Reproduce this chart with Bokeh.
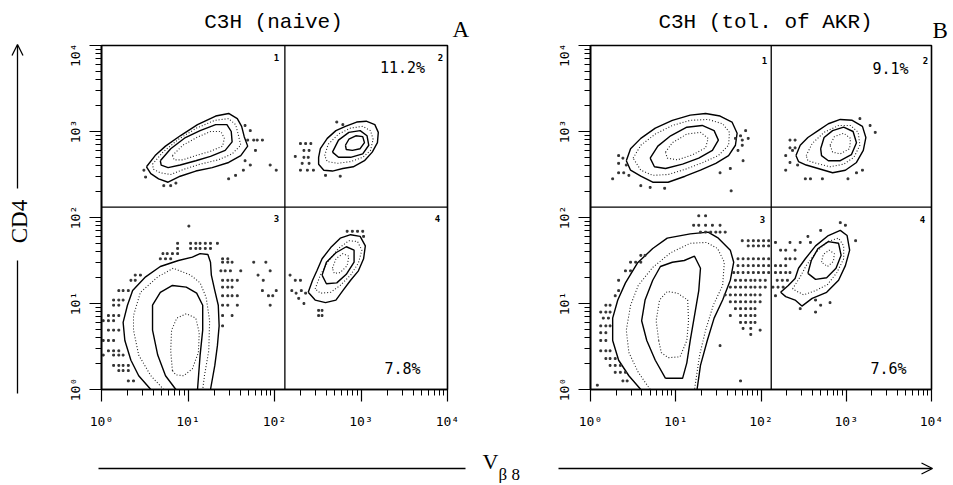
from bokeh.plotting import figure
from bokeh.layouts import row, column
from bokeh.models import Span, Label, Arrow, OpenHead, FixedTicker, Range1d
from bokeh.embed import file_html
from bokeh.resources import INLINE

# ---------------- data (log10 fluorescence units) ----------------
DECADES = [1, 10, 100, 1000, 10000]
TICK_LABELS = ["10\u2070", "10\u00b9", "10\u00b2", "10\u00b3", "10\u2074"]
GATE_LOG = 2.12
PCT_A = ["11.2%", "7.8%"]
PCT_B = ["9.1%", "7.6%"]

# Panel A (naive) contours
a_q1_c1 = [(0.52,2.59),(0.62,2.72),(0.74,2.83),(0.91,2.95),(1.11,3.08),(1.32,3.18),(1.47,3.21),(1.57,3.15),(1.62,3.06),(1.65,2.94),(1.69,2.83),(1.61,2.72),(1.47,2.64),(1.28,2.58),(1.09,2.54),(0.91,2.48),(0.77,2.41),(0.66,2.45),(0.57,2.51)]
a_q1_c2 = [(0.59,2.62),(0.71,2.76),(0.89,2.91),(1.10,3.04),(1.31,3.13),(1.47,3.15),(1.55,3.08),(1.58,2.97),(1.61,2.84),(1.51,2.74),(1.35,2.67),(1.14,2.62),(0.95,2.56),(0.80,2.50),(0.68,2.52),(0.60,2.56)]
a_q1_c3 = [(0.68,2.66),(0.80,2.80),(0.97,2.93),(1.14,3.01),(1.32,3.08),(1.45,3.08),(1.50,3.00),(1.51,2.88),(1.43,2.78),(1.26,2.71),(1.09,2.66),(0.91,2.61),(0.77,2.58),(0.69,2.61)]
a_q1_c4 = [(0.82,2.72),(0.94,2.84),(1.10,2.93),(1.26,3.00),(1.38,3.00),(1.42,2.92),(1.40,2.83),(1.26,2.77),(1.09,2.72),(0.94,2.67),(0.84,2.67)]
a_q2_c1 = [(2.51,2.70),(2.53,2.80),(2.61,2.92),(2.71,3.01),(2.82,3.06),(2.95,3.11),(3.06,3.12),(3.16,3.08),(3.20,2.99),(3.19,2.87),(3.13,2.76),(3.04,2.66),(2.91,2.59),(2.79,2.57),(2.67,2.54),(2.57,2.55),(2.51,2.62)]
a_q2_c2 = [(2.58,2.72),(2.62,2.85),(2.74,2.97),(2.88,3.04),(3.02,3.06),(3.11,3.01),(3.14,2.91),(3.11,2.78),(3.02,2.70),(2.88,2.65),(2.73,2.63),(2.61,2.65)]
a_q2_c3 = [(2.67,2.76),(2.74,2.90),(2.86,2.99),(2.99,3.01),(3.07,2.95),(3.09,2.84),(3.02,2.74),(2.88,2.70),(2.74,2.70)]
a_q2_c4 = [(2.82,2.84),(2.86,2.91),(2.94,2.95),(3.02,2.94),(3.04,2.87),(2.99,2.80),(2.90,2.78),(2.83,2.79)]
a_q3_c1 = [(0.57,0.0),(0.43,0.16),(0.34,0.34),(0.27,0.57),(0.25,0.78),(0.30,0.98),(0.36,1.15),(0.51,1.31),(0.68,1.43),(0.89,1.50),(1.05,1.54),(1.14,1.58),(1.23,1.57),(1.26,1.48),(1.27,1.33),(1.31,1.15),(1.35,0.98),(1.36,0.74),(1.34,0.51),(1.31,0.28),(1.26,0.0)]
a_q3_c2 = [(0.72,0.0),(0.57,0.16),(0.43,0.40),(0.37,0.69),(0.37,0.86),(0.45,1.13),(0.65,1.31),(0.83,1.41),(1.03,1.33),(1.14,1.24),(1.21,1.07),(1.25,0.80),(1.24,0.45),(1.19,0.16),(1.17,0.0)]
a_q3_c3 = [(0.86,0.0),(0.74,0.16),(0.65,0.40),(0.59,0.69),(0.59,0.98),(0.68,1.13),(0.82,1.21),(0.98,1.19),(1.10,1.12),(1.17,0.98),(1.17,0.69),(1.14,0.40),(1.11,0.0)]
a_q3_c4 = [(0.82,0.22),(0.80,0.45),(0.81,0.69),(0.87,0.83),(0.98,0.88),(1.09,0.83),(1.13,0.66),(1.12,0.43),(1.05,0.24),(0.95,0.16),(0.86,0.17)]
a_q4_c1 = [(2.39,1.13),(2.44,1.27),(2.49,1.38),(2.55,1.52),(2.65,1.65),(2.76,1.76),(2.88,1.80),(2.99,1.78),(3.05,1.67),(3.03,1.52),(2.97,1.38),(2.88,1.27),(2.79,1.15),(2.71,1.04),(2.59,1.01),(2.47,1.04)]
a_q4_c2 = [(2.47,1.17),(2.53,1.33),(2.62,1.49),(2.74,1.64),(2.86,1.73),(2.96,1.72),(3.01,1.62),(2.97,1.47),(2.88,1.33),(2.76,1.21),(2.65,1.13),(2.53,1.12)]
a_q4_c3 = [(2.55,1.33),(2.60,1.48),(2.71,1.59),(2.83,1.66),(2.92,1.62),(2.92,1.48),(2.83,1.34),(2.72,1.24),(2.60,1.23)]
a_q4_c4 = [(2.67,1.41),(2.71,1.52),(2.79,1.58),(2.86,1.55),(2.84,1.44),(2.76,1.36),(2.69,1.35)]

# Panel B (tolerant of AKR) contours
b_q1_c1 = [(0.42,2.66),(0.47,2.80),(0.59,2.92),(0.76,3.04),(0.96,3.13),(1.17,3.19),(1.35,3.21),(1.52,3.18),(1.66,3.11),(1.72,2.98),(1.70,2.84),(1.62,2.72),(1.47,2.63),(1.29,2.55),(1.11,2.48),(0.91,2.41),(0.73,2.41),(0.59,2.48),(0.47,2.55)]
b_q1_c2 = [(0.50,2.69),(0.59,2.84),(0.76,2.97),(0.96,3.07),(1.17,3.13),(1.38,3.14),(1.55,3.09),(1.63,2.99),(1.62,2.84),(1.50,2.72),(1.32,2.64),(1.11,2.56),(0.91,2.50),(0.73,2.49),(0.59,2.55)]
b_q1_c3 = [(0.70,2.69),(0.79,2.83),(0.94,2.95),(1.13,3.05),(1.31,3.07),(1.45,3.01),(1.50,2.90),(1.43,2.78),(1.27,2.69),(1.08,2.62),(0.88,2.57),(0.75,2.59)]
b_q1_c4 = [(0.88,2.76),(0.96,2.87),(1.13,2.97),(1.29,2.99),(1.38,2.92),(1.35,2.81),(1.20,2.73),(1.02,2.67),(0.90,2.69)]
b_q2_c1 = [(2.41,2.72),(2.46,2.84),(2.55,2.93),(2.67,3.01),(2.79,3.09),(2.93,3.14),(3.07,3.13),(3.19,3.06),(3.23,2.93),(3.20,2.78),(3.12,2.64),(2.99,2.55),(2.84,2.52),(2.67,2.57),(2.53,2.61),(2.44,2.65)]
b_q2_c2 = [(2.53,2.72),(2.60,2.86),(2.74,2.99),(2.91,3.07),(3.05,3.07),(3.14,2.99),(3.16,2.84),(3.09,2.70),(2.97,2.62),(2.81,2.59),(2.65,2.63),(2.55,2.66)]
b_q2_c3 = [(2.70,2.80),(2.74,2.93),(2.84,3.01),(2.97,3.05),(3.08,3.00),(3.12,2.87),(3.06,2.73),(2.93,2.66),(2.79,2.66),(2.71,2.72)]
b_q2_c4 = [(2.81,2.84),(2.86,2.94),(2.97,2.98),(3.05,2.92),(3.04,2.80),(2.93,2.74),(2.84,2.76)]
b_q3_c1 = [(0.59,0.0),(0.45,0.16),(0.33,0.34),(0.26,0.57),(0.26,0.83),(0.32,1.04),(0.41,1.24),(0.55,1.47),(0.73,1.64),(0.90,1.76),(1.17,1.81),(1.38,1.83),(1.50,1.76),(1.64,1.62),(1.68,1.48),(1.64,1.27),(1.55,1.04),(1.45,0.83),(1.37,0.57),(1.29,0.28),(1.25,0.0)]
b_q3_c2 = [(0.70,0.0),(0.56,0.20),(0.45,0.43),(0.42,0.69),(0.47,0.98),(0.56,1.21),(0.73,1.42),(0.94,1.59),(1.17,1.70),(1.36,1.71),(1.49,1.64),(1.57,1.48),(1.55,1.21),(1.44,0.98),(1.35,0.69),(1.28,0.40),(1.22,0.0)]
b_q3_c3 = [(0.88,0.13),(0.76,0.34),(0.66,0.57),(0.60,0.80),(0.64,1.04),(0.73,1.27),(0.82,1.43),(0.96,1.48),(1.10,1.50),(1.22,1.55),(1.29,1.41),(1.27,1.15),(1.22,0.86),(1.17,0.57),(1.13,0.31),(1.08,0.13)]
b_q3_c4 = [(0.80,0.57),(0.77,0.80),(0.81,1.04),(0.90,1.14),(1.02,1.12),(1.14,1.04),(1.15,0.80),(1.13,0.57),(1.05,0.38),(0.91,0.37),(0.83,0.43)]
b_q4_c1 = [(2.23,1.13),(2.32,1.21),(2.40,1.29),(2.44,1.41),(2.52,1.52),(2.64,1.67),(2.79,1.79),(2.93,1.85),(3.01,1.79),(3.04,1.62),(2.99,1.44),(2.91,1.27),(2.77,1.13),(2.60,1.06),(2.48,0.97),(2.40,1.04),(2.29,1.08)]
b_q4_c2 = [(2.37,1.17),(2.46,1.31),(2.53,1.44),(2.64,1.59),(2.78,1.72),(2.91,1.76),(2.97,1.67),(2.97,1.52),(2.89,1.36),(2.78,1.22),(2.64,1.15),(2.50,1.10)]
b_q4_c3 = [(2.55,1.35),(2.59,1.50),(2.67,1.64),(2.79,1.72),(2.91,1.70),(2.94,1.56),(2.88,1.41),(2.77,1.30),(2.64,1.28)]
b_q4_c4 = [(2.71,1.48),(2.73,1.57),(2.80,1.62),(2.86,1.58),(2.85,1.49),(2.78,1.43)]

# (contour, style, closed)
contours_a = [
    (a_q1_c1, "solid", True), (a_q1_c2, "dot", True), (a_q1_c3, "solid", True), (a_q1_c4, "dot", True),
    (a_q2_c1, "solid", True), (a_q2_c2, "dot", True), (a_q2_c3, "solid", True), (a_q2_c4, "solid", True),
    (a_q3_c1, "solid", False), (a_q3_c2, "dot", False), (a_q3_c3, "solid", False), (a_q3_c4, "dot", True),
    (a_q4_c1, "solid", True), (a_q4_c2, "dot", True), (a_q4_c3, "solid", True), (a_q4_c4, "dot", True),
]
contours_b = [
    (b_q1_c1, "solid", True), (b_q1_c2, "dot", True), (b_q1_c3, "solid", True), (b_q1_c4, "dot", True),
    (b_q2_c1, "solid", True), (b_q2_c2, "dot", True), (b_q2_c3, "solid", True), (b_q2_c4, "dot", True),
    (b_q3_c1, "solid", False), (b_q3_c2, "dot", False), (b_q3_c3, "solid", True), (b_q3_c4, "dot", True),
    (b_q4_c1, "solid", True), (b_q4_c2, "dot", True), (b_q4_c3, "solid", True), (b_q4_c4, "dot", True),
]

# scattered single events: rows of (log y, [log x ...])
dots_a_rows = [
    (1.90,[1.01]), (1.70,[0.88,1.03,1.09,1.14,1.20,1.26,1.34]), (1.64,[0.88,1.03,1.09,1.14,1.20,1.26]),
    (1.58,[0.71,0.76,0.82,0.88]), (1.52,[0.68,0.74,0.80,1.40,1.46]), (1.48,[1.40,1.46,1.51,1.76,1.90]),
    (1.38,[1.38,1.43,1.49,1.61,1.95]), (1.33,[0.39,0.45,1.81]), (1.27,[0.34,0.39,1.40,1.46,1.51,1.57,1.87]),
    (1.19,[1.40,1.46,1.51]), (1.15,[0.20,0.25,0.31,1.86,2.02]), (1.09,[1.40,1.46,1.51,1.57,1.93,1.98]),
    (1.04,[0.14,0.20,0.25]), (0.98,[0.14,0.20,1.40,1.46,1.57,1.95]), (0.86,[0.08,0.14,0.20,1.40,1.51]),
    (0.80,[0.02,0.08,0.14]), (0.74,[1.40]), (0.69,[0.08,0.14,0.20]), (0.57,[0.02,0.08,0.14]),
    (0.45,[0.08,0.14,0.20]), (0.40,[0.02,0.14,0.20,0.25]), (0.28,[0.14,0.20,0.25,0.31]),
    (0.22,[0.20,0.25,0.31]), (0.10,[0.31,0.37]),
    # quadrant 4
    (1.84,[2.84,2.90,2.96,3.02]), (1.78,[3.03]), (1.33,[2.18]), (1.27,[2.24,2.30]), (1.15,[2.20,2.31]),
    (1.12,[2.25,2.36]), (1.06,[2.28]), (1.00,[2.34]), (0.92,[2.51,2.55]), (0.86,[2.51,2.55]),
    # quadrant 1
    (3.07,[1.66]), (3.01,[1.72]), (2.90,[1.69,1.76,1.80,1.86]), (2.78,[1.78]), (2.66,[1.66]),
    (2.61,[1.72,1.95]), (2.55,[0.49,1.64,2.02]), (2.49,[1.55]), (2.47,[0.51]), (2.45,[1.47]),
    (2.37,[0.72,0.80]), (2.40,[0.86]),
    # quadrant 2
    (2.86,[2.30,2.36,2.42]), (2.78,[2.34,2.40]), (2.71,[2.24]), (2.70,[2.34,2.39]), (2.63,[2.32,2.40]),
    (2.55,[2.30,2.38,2.45]), (3.11,[2.72]), (3.08,[2.79]), (2.49,[2.59]), (2.48,[2.76]),
]
dots_b_rows = [
    # quadrant 3
    (2.02,[1.27,1.35]), (1.91,[1.21,1.27,1.35,1.43,1.52]), (1.83,[1.29,1.35,1.41,1.47,1.52,1.58]),
    (1.73,[1.78,1.85,1.91,1.97,2.03,2.09]), (1.67,[1.85,1.91,1.97,2.03,2.09]),
    (1.56,[0.59,0.64]), (1.52,[1.73,1.79,1.85,1.91,1.97,2.03,2.09]), (1.48,[0.47,0.53,0.59]),
    (1.44,[1.73,1.79,1.85,1.91,1.97,2.03,2.09]), (1.38,[0.41,0.47]),
    (1.36,[1.68,1.73,1.79,1.85,1.91,1.97,2.03,2.09]), (1.27,[0.33,1.70,1.76,1.82,1.88,1.93,1.99,2.05]),
    (1.19,[1.64,1.70,1.76,1.82,1.88,1.93,1.99,2.05]), (1.15,[0.33]),
    (1.10,[1.58,1.64,1.70,1.76,1.82,1.88,1.93,1.99]), (1.09,[0.29]),
    (1.02,[1.64,1.70,1.76,1.82,1.88,1.93,1.99]), (0.98,[0.18,0.23]), (0.94,[1.70,1.76,1.82,1.88,1.93]),
    (0.90,[0.12,0.18,0.23]), (0.86,[1.64,1.76,1.82,1.88,1.93]), (0.83,[0.15,0.21]),
    (0.78,[1.76,1.82,1.88,1.93]), (0.74,[0.12,0.18,0.23]), (0.71,[1.79,1.88]), (0.69,[1.99]),
    (0.66,[0.12,0.18]), (0.64,[1.88]), (0.57,[0.12,0.18]), (0.51,[1.52]), (0.45,[0.12,0.18,0.23]),
    (0.36,[0.18,0.23,0.29]), (0.28,[0.23,0.29,0.35]), (0.20,[0.29,0.35,0.41]), (0.10,[0.38,0.43,1.76]),
    (0.05,[0.08]),
    # quadrant 4
    (1.94,[2.93]), (1.91,[2.99]), (1.85,[2.70]), (1.78,[2.55]), (1.73,[3.11]),
    (1.71,[2.17,2.34,2.46,2.58]), (1.62,[2.23,2.29,2.40]), (1.52,[2.29,2.34,2.40]), (1.44,[2.17,2.23,2.29]),
    (1.36,[2.17,2.23,2.29,2.34]), (1.27,[2.19,2.25,2.31]), (1.19,[2.14,2.20,2.26]), (1.09,[2.17]),
    (1.04,[2.64]), (1.01,[2.81]), (0.98,[2.70]), (0.94,[2.46]), (0.90,[2.64]),
    # quadrant 1
    (2.72,[0.33]), (2.63,[0.33]), (2.69,[0.38]), (2.61,[0.42]), (2.52,[0.33,0.39,1.52]), (2.49,[0.45]),
    (2.45,[0.26]), (2.37,[0.59]), (2.35,[0.70]), (2.34,[0.87]), (2.92,[1.70,1.85]), (2.95,[1.76]),
    (2.90,[1.78]), (3.01,[1.82]), (2.84,[1.78]), (2.78,[1.73]), (2.57,[1.64]), (2.66,[1.79]), (2.31,[1.65]),
    # quadrant 2
    (2.90,[2.34,2.40]), (2.81,[2.34,2.40]), (2.72,[2.29]), (2.78,[2.37]), (2.64,[2.34]), (2.61,[2.43]),
    (2.55,[2.29,3.19]), (2.45,[2.52,2.58,2.72,3.02]), (2.52,[3.12]), (3.07,[3.28]), (2.99,[3.34]), (3.15,[3.16]),
]

MINOR = [m * 10 ** k for k in range(4) for m in range(2, 10)]
SERIF = "Liberation Serif"
MONO = "DejaVu Sans Mono"


def build(width, bl, br, contours, dot_rows, pcts, quad_pos, pct_pos):
    p = figure(width=width, height=402, x_axis_type="log", y_axis_type="log",
               x_range=(1, 1e4), y_range=(1, 1e4),
               output_backend="svg", toolbar_location=None,
               min_border_left=bl, min_border_right=br, min_border_top=2, min_border_bottom=56)
    p.xgrid.visible = False
    p.ygrid.visible = False
    p.outline_line_color = "black"
    p.outline_line_width = 1.6
    p.background_fill_color = "white"
    p.border_fill_color = "white"
    for ax in (p.xaxis[0], p.yaxis[0]):
        ax.ticker = FixedTicker(ticks=DECADES, minor_ticks=MINOR)
        ax.major_label_overrides = {d: t for d, t in zip(DECADES, TICK_LABELS)}
        ax.major_label_text_font = MONO
        ax.major_label_text_font_size = "13px"
        ax.major_label_text_color = "black"
        ax.axis_line_color = "black"
        ax.axis_line_width = 1.6
        ax.major_tick_line_color = "black"
        ax.minor_tick_line_color = "black"
        ax.major_tick_line_width = 1.2
        ax.minor_tick_line_width = 1.0
        ax.major_tick_in = 0
        ax.major_tick_out = 12
        ax.minor_tick_in = 0
        ax.minor_tick_out = 6
    p.xaxis[0].major_label_standoff = 12
    p.yaxis[0].major_label_standoff = 7
    p.yaxis[0].major_label_orientation = "vertical"

    gate = 10 ** GATE_LOG
    p.add_layout(Span(location=gate, dimension="height", line_color="black", line_width=1.3))
    p.add_layout(Span(location=gate, dimension="width", line_color="black", line_width=1.3))

    for pts, style, closed in contours:
        xs = [10 ** x for x, _ in pts]
        ys = [10 ** y for _, y in pts]
        if closed:
            xs.append(xs[0]); ys.append(ys[0])
        if style == "solid":
            p.line(xs, ys, line_color="black", line_width=1.4)
        else:
            p.line(xs, ys, line_color="#222222", line_width=1.1, line_dash="1 2")

    dx, dy = [], []
    for yv, xl in dot_rows:
        for xv in xl:
            dx.append(10 ** xv); dy.append(10 ** yv)
    p.scatter(dx, dy, marker="square", size=1.8, color="#333333")

    for (qx, qy), q in zip(quad_pos, ["1", "2", "3", "4"]):
        p.add_layout(Label(x=qx, y=qy, x_units="screen", y_units="screen", text=q,
                           text_font=MONO, text_font_size="9px", text_font_style="bold",
                           text_align="center", text_baseline="middle", text_color="black"))
    for (px, py), t in zip(pct_pos, pcts):
        p.add_layout(Label(x=px, y=py, x_units="screen", y_units="screen", text=t,
                           text_font=MONO, text_font_size="15px",
                           text_align="center", text_baseline="middle", text_color="black"))
    return p


def deco(width, height, x0, x1, y_bottom, y_top):
    f = figure(width=width, height=height, x_range=Range1d(x0, x1), y_range=Range1d(y_bottom, y_top),
               x_axis_location=None, y_axis_location=None, min_border=0,
               toolbar_location=None, output_backend="svg", outline_line_color=None)
    f.grid.visible = False
    f.background_fill_color = "white"
    f.border_fill_color = "white"
    return f


def label(f, x, y, text, font, size, align="center", angle=0.0):
    f.add_layout(Label(x=x, y=y, text=text, text_font=font, text_font_size=size, text_align=align,
                       text_baseline="middle", angle=angle, text_color="black"))


pa = build(500, 61, 93, contours_a, dots_a_rows, PCT_A,
           [(175, 332), (339, 332), (175, 171), (336, 171)], [(301, 322), (301, 21)])
pb = build(410, 50, 19, contours_b, dots_b_rows, PCT_B,
           [(174, 329), (335, 329), (172, 170), (332, 170)], [(300, 321), (298, 21)])

# decoration strips (coordinates in page pixels)
top = deco(910, 43, 40, 950, 43, 0)
label(top, 273, 22, "C3H (naive)", "Liberation Mono", "21px")
label(top, 452, 29, "A", SERIF, "23px", align="left")
label(top, 765, 22, "C3H (tol. of AKR)", "Liberation Mono", "21px")
label(top, 932, 30, "B", SERIF, "23px", align="left")

left = deco(40, 483, 0, 40, 483, 0)
left.add_layout(Arrow(x_start=17, y_start=188, x_end=17, y_end=44,
                      end=OpenHead(size=11, line_width=1.3), line_width=1.3))
left.add_layout(Arrow(x_start=17, y_start=260, x_end=17, y_end=393, end=None, line_width=1.3))
label(left, 19, 221, "CD4", SERIF, "23px", angle=1.5708)

bottom = deco(910, 38, 40, 950, 483, 445)
bottom.add_layout(Arrow(x_start=98, y_start=468, x_end=465, y_end=468, end=None, line_width=1.3))
bottom.add_layout(Arrow(x_start=558, y_start=468, x_end=932, y_end=468,
                        end=OpenHead(size=11, line_width=1.3), line_width=1.3))
label(bottom, 482, 461, "V", SERIF, "22px", align="left")
label(bottom, 498, 474, "\u03b2 8", SERIF, "17px", align="left")

layout = row(left, column(top, row(pa, pb), bottom))
open("out.html", "w").write(file_html(layout, INLINE))
